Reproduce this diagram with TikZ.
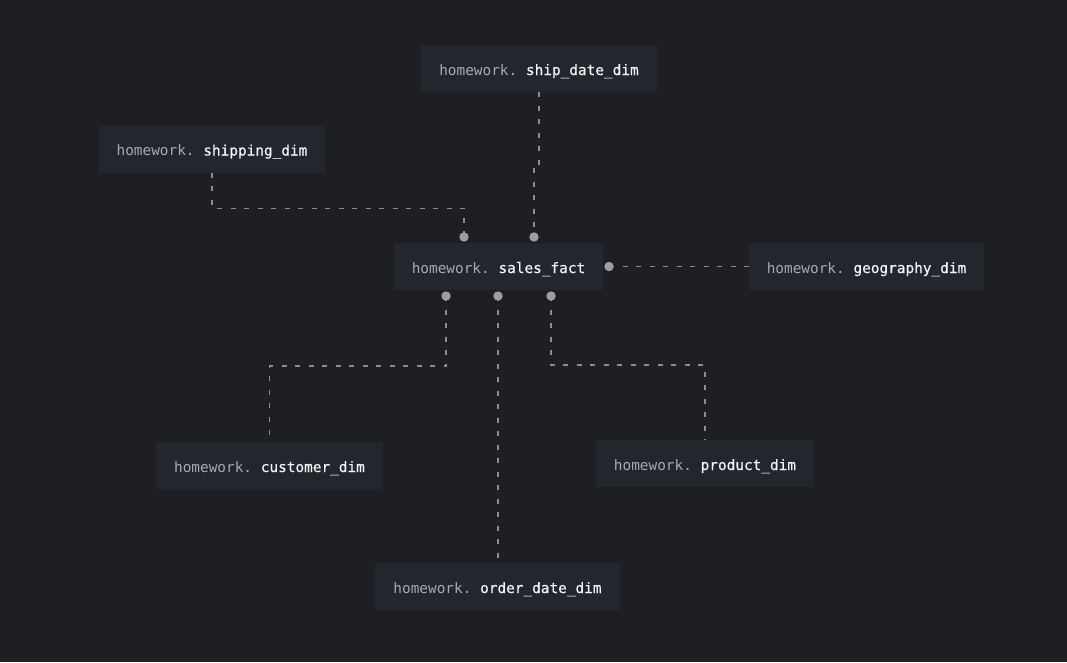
\documentclass[tikz,border=0pt]{standalone}
\usepackage{fontspec}
\newfontfamily\mono{DejaVu Sans Mono}
\newfontfamily\mononame[FakeBold=0.5]{DejaVu Sans Mono}
\usetikzlibrary{calc}
\definecolor{canvas}{HTML}{1E1F23}
\definecolor{tablebg}{HTML}{24262D}
\definecolor{schema}{HTML}{A9AAAE}
\definecolor{tname}{HTML}{F4F4F4}
\definecolor{link}{HTML}{8C8D92}
\definecolor{pin}{HTML}{9D9EA4}
\tikzset{
  table/.style={fill=tablebg, draw=none, inner xsep=18pt, inner ysep=0pt,
    minimum height=47pt, text height=13pt, text depth=0pt,
    font=\mono\fontsize{14.4}{16}\selectfont\frenchspacing},
  conn/.style={draw=link, line width=1.3pt, dash pattern=on 5pt off 8.5pt},
  pinmark/.style={fill=pin}
}
\newcommand{\tbl}[1]{\textcolor{schema}{homework.}\ \textcolor{tname}{\mononame #1}}
\begin{document}
\begin{tikzpicture}[x=1pt,y=-1pt]
  \fill[canvas] (0,0) rectangle (1067,662);
  \useasboundingbox (0,0) rectangle (1067,662);

  % tables
  \node[table] (shipdate) at (539,68.5)  {\tbl{ship\_date\_dim}};
  \node[table] (shipping) at (212,149)   {\tbl{shipping\_dim}};
  \node[table] (sales)    at (498.5,266.5) {\tbl{sales\_fact}};
  \node[table] (geo)      at (866.5,266.5) {\tbl{geography\_dim}};
  \node[table] (customer) at (269.5,465.5) {\tbl{customer\_dim}};
  \node[table] (product)  at (705,463.5) {\tbl{product\_dim}};
  \node[table] (orderd)   at (497.5,586.5) {\tbl{order\_date\_dim}};

  % relation end points on the fact table
  \coordinate (pShipping) at (464,237);
  \coordinate (pShipDate) at (534,237);
  \coordinate (pGeo)      at (609,266.5);
  \coordinate (pCustomer) at (446,296);
  \coordinate (pOrder)    at (498,296);
  \coordinate (pProduct)  at (551,296);

  % relations
  \draw[conn] (shipping.south) -- ++(0,35.5) -| (pShipping);
  \draw[conn] (shipdate.south) -- ++(0,74) -| (pShipDate);
  \draw[conn] (pGeo) -- (geo.west);
  \draw[conn] (pCustomer) -- ++(0,70) -| (customer.north);
  \draw[conn] (pOrder) -- (pOrder |- orderd.north);
  \draw[conn] (pProduct) -- ++(0,69) -| (product.north);

  % pins
  \foreach \p in {pShipping,pShipDate,pGeo,pCustomer,pOrder,pProduct}
    \fill[pinmark] (\p) circle (4.7pt);
\end{tikzpicture}
\end{document}
